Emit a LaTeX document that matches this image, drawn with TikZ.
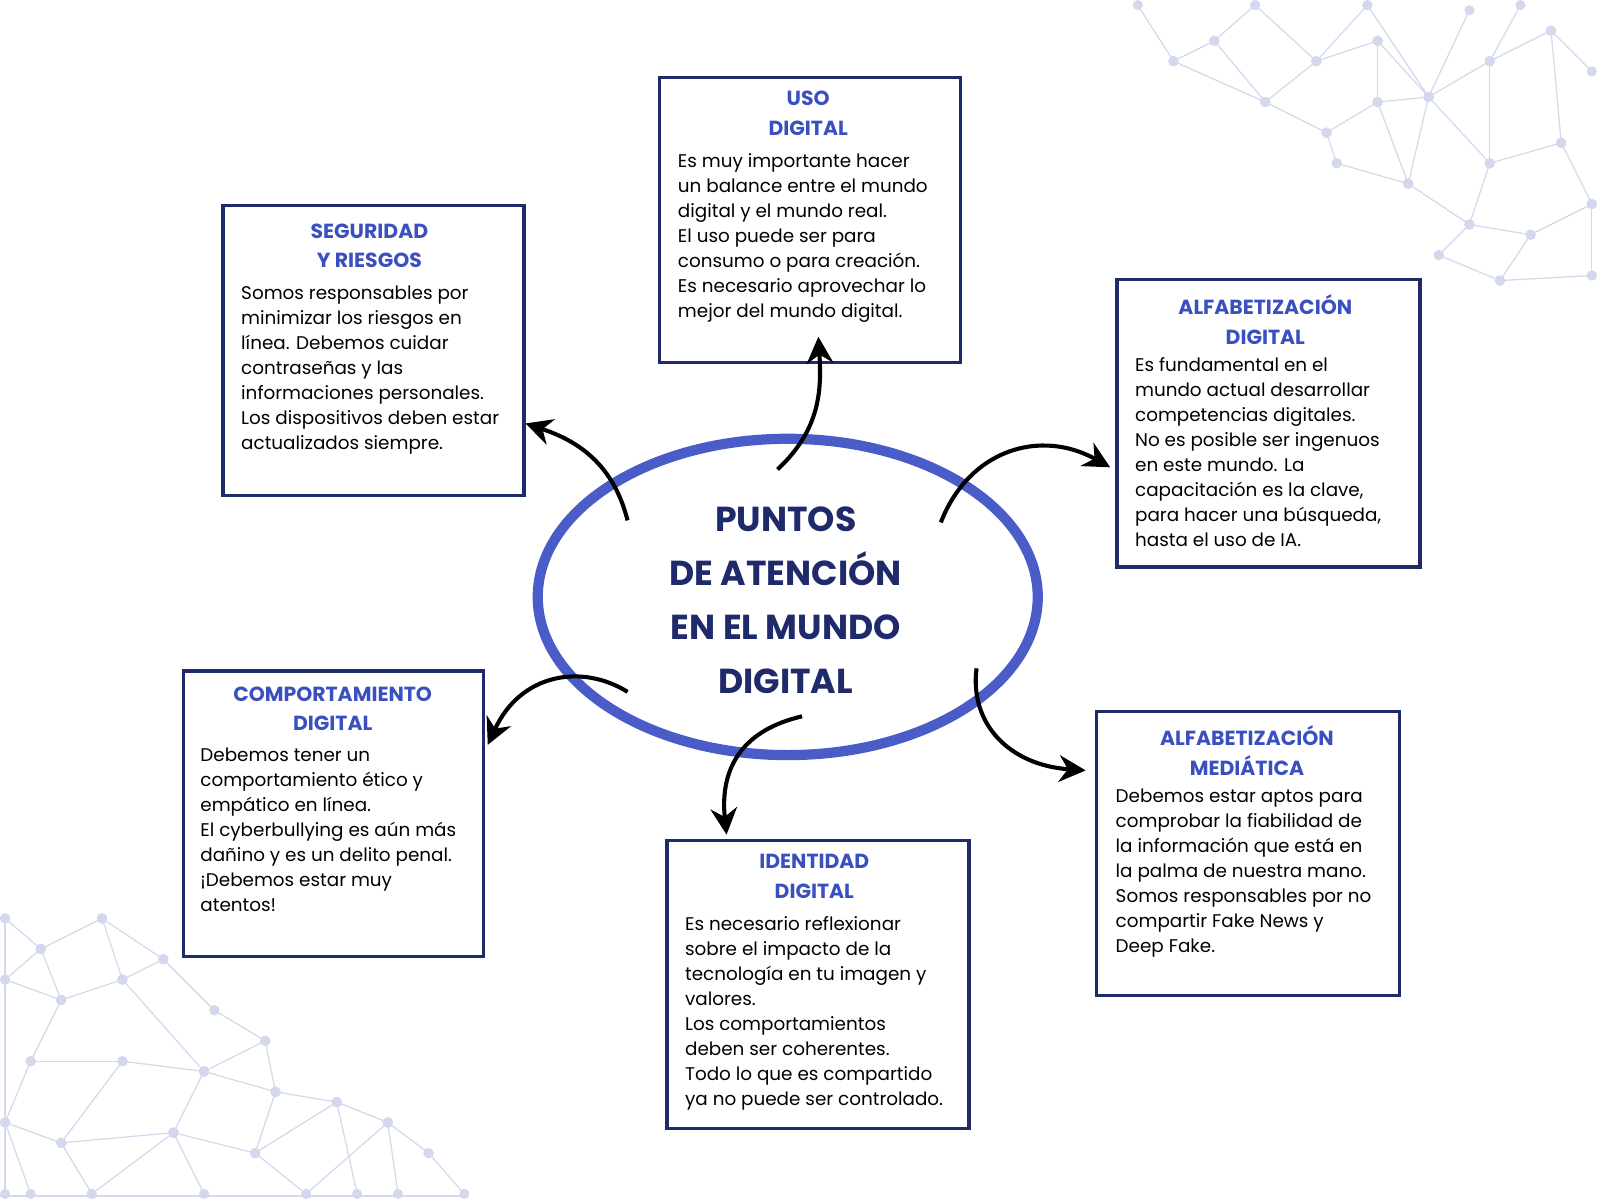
\documentclass[tikz,border=0pt]{standalone}
\usepackage{fontspec}
\setmainfont{Poppins}
\usetikzlibrary{arrows.meta,shapes.geometric}
\definecolor{navy}{HTML}{1F2A6B}
\definecolor{tblue}{HTML}{3A4FC0}
\definecolor{eblue}{HTML}{4A5CC8}
\definecolor{net}{HTML}{D3D8EC}
\begin{document}
\begin{tikzpicture}[x=0.5pt,y=-0.5pt,
 box/.style={draw=navy,line width=1.6pt,rectangle,inner sep=0pt},
 ttl/.style={font=\fontsize{10}{14.5}\selectfont\bfseries,text=tblue,align=center},
 body/.style={font=\fontsize{9}{12.25}\selectfont,text=black,align=left,anchor=north west,inner sep=0pt},
 arr/.style={line width=2pt,-{Stealth[length=13pt,width=13pt]}},
 nl/.style={draw=net,line width=0.6pt}, nd/.style={fill=net}]
\useasboundingbox (0,0) rectangle (1568,1176);
% network decorations
\foreach \xa/\ya/\xb/\yb in {1115/5/1150/60, 1150/60/1190/40, 1190/40/1240/100, 1240/100/1290/60, 1290/60/1350/40, 1350/40/1400/95, 1400/95/1460/60, 1460/60/1520/30, 1520/30/1560/70, 1150/60/1240/100, 1190/40/1230/5, 1230/5/1290/60, 1290/60/1340/5, 1340/5/1400/95, 1400/95/1440/10, 1460/60/1490/5, 1240/100/1300/130, 1300/130/1350/100, 1350/100/1400/95, 1300/130/1310/160, 1310/160/1380/180, 1380/180/1400/95, 1380/180/1440/220, 1440/220/1460/160, 1460/160/1400/95, 1460/160/1530/140, 1530/140/1520/30, 1530/140/1560/200, 1440/220/1410/250, 1410/250/1470/275, 1470/275/1560/270, 1560/200/1560/270, 1440/220/1500/230, 1500/230/1560/200, 1500/230/1470/275, 1350/100/1380/180, 1460/60/1460/160, 1350/40/1350/100, 5/900/40/930, 40/930/100/900, 100/900/160/940, 40/930/60/980, 60/980/120/960, 120/960/160/940, 160/940/210/990, 210/990/260/1020, 120/960/200/1050, 200/1050/260/1020, 60/980/30/1040, 30/1040/120/1040, 120/1040/200/1050, 30/1040/5/1100, 5/1100/60/1120, 60/1120/120/1040, 60/1120/170/1110, 170/1110/200/1050, 170/1110/250/1130, 250/1130/270/1070, 270/1070/200/1050, 270/1070/330/1080, 330/1080/380/1100, 380/1100/420/1130, 420/1130/455/1170, 250/1130/330/1080, 250/1130/300/1170, 300/1170/380/1100, 60/1120/90/1170, 90/1170/170/1110, 170/1110/200/1170, 380/1100/390/1170, 5/900/5/1170, 5/1100/30/1170, 260/1020/270/1070, 100/900/120/960, 5/960/40/930, 5/960/60/980, 330/1080/350/1170}
 {\draw[nl] (\xa,\ya)--(\xb,\yb); \fill[nd] (\xa,\ya) circle (2.5pt); \fill[nd] (\xb,\yb) circle (2.5pt);}
\draw[nl] (0,1172)--(455,1172);
% ellipse
\node[ellipse,draw=eblue,line width=5pt,minimum width=245pt,minimum height=155pt,inner sep=0pt] (E) at (772,585) {};
\node[font=\fontsize{17}{26.5}\selectfont\bfseries,text=navy,align=center] (ET) at (770,588) {PUNTOS\\DE ATENCIÓN\\EN EL MUNDO\\DIGITAL};
% boxes
\node[box,minimum width=147.5pt,minimum height=140pt,anchor=north west] (B1) at (645,74) {};
\node[ttl,anchor=north] (T1) at (792,82) {USO\\DIGITAL};
\node[body] (X1) at (664,150) {Es muy importante hacer\\un balance entre el mundo\\digital y el mundo real.\\El uso puede ser para\\consumo o para creación.\\Es necesario aprovechar lo\\mejor del mundo digital.};
\node[box,minimum width=147.5pt,minimum height=142pt,anchor=north west] (B2) at (217,200) {};
\node[ttl,anchor=north] (T2) at (362,212) {SEGURIDAD\\Y RIESGOS};
\node[body] (X2) at (236,280) {Somos responsables por\\minimizar los riesgos en\\línea. Debemos cuidar\\contraseñas y las\\informaciones personales.\\Los dispositivos deben estar\\actualizados siempre.};
\node[box,minimum width=148.5pt,minimum height=141pt,anchor=north west] (B3) at (1093,272) {};
\node[ttl,anchor=north] (T3) at (1240,282) {ALFABETIZACIÓN\\DIGITAL};
\node[body] (X3) at (1112,350) {Es fundamental en el\\mundo actual desarrollar\\competencias digitales.\\No es posible ser ingenuos\\en este mundo. La\\capacitación es la clave,\\para hacer una búsqueda,\\hasta el uso de IA.};
\node[box,minimum width=147pt,minimum height=140pt,anchor=north west] (B4) at (178,656) {};
\node[ttl,anchor=north] (T4) at (326,666) {COMPORTAMIENTO\\DIGITAL};
\node[body] (X4) at (196,733) {Debemos tener un\\comportamiento ético y\\empático en línea.\\El cyberbullying es aún más\\dañino y es un delito penal.\\¡Debemos estar muy\\atentos!};
\node[box,minimum width=148pt,minimum height=141pt,anchor=north west] (B5) at (652,822) {};
\node[ttl,anchor=north] (T5) at (798,830) {IDENTIDAD\\DIGITAL};
\node[body] (X5) at (671,898) {Es necesario reflexionar\\sobre el impacto de la\\tecnología en tu imagen y\\valores.\\Los comportamientos\\deben ser coherentes.\\Todo lo que es compartido\\ya no puede ser controlado.};
\node[box,minimum width=148.5pt,minimum height=139pt,anchor=north west] (B6) at (1073,696) {};
\node[ttl,anchor=north] (T6) at (1222,704) {ALFABETIZACIÓN\\MEDIÁTICA};
\node[body] (X6) at (1093,773) {Debemos estar aptos para\\comprobar la fiabilidad de\\la información que está en\\la palma de nuestra mano.\\Somos responsables por no\\compartir Fake News y\\Deep Fake.};
% arrows
\coordinate (s1) at (762,460); \coordinate (e1) at (802,330);
\coordinate (s2) at (615,510); \coordinate (e2) at (515,415);
\coordinate (s3) at (922,512); \coordinate (e3) at (1088,458);
\coordinate (s4) at (615,678); \coordinate (e4) at (478,730);
\coordinate (s5) at (786,702); \coordinate (e5) at (712,818);
\coordinate (s6) at (957,655); \coordinate (e6) at (1064,755);
\draw[arr] (s1) .. controls (805,420) and (805,380) .. (e1);
\draw[arr] (s2) .. controls (600,450) and (560,430) .. (e2);
\draw[arr] (s3) .. controls (950,440) and (1020,420) .. (e3);
\draw[arr] (s4) .. controls (570,650) and (510,660) .. (e4);
\draw[arr] (s5) .. controls (730,715) and (705,750) .. (e5);
\draw[arr] (s6) .. controls (950,710) and (990,750) .. (e6);
\end{tikzpicture}
\end{document}
